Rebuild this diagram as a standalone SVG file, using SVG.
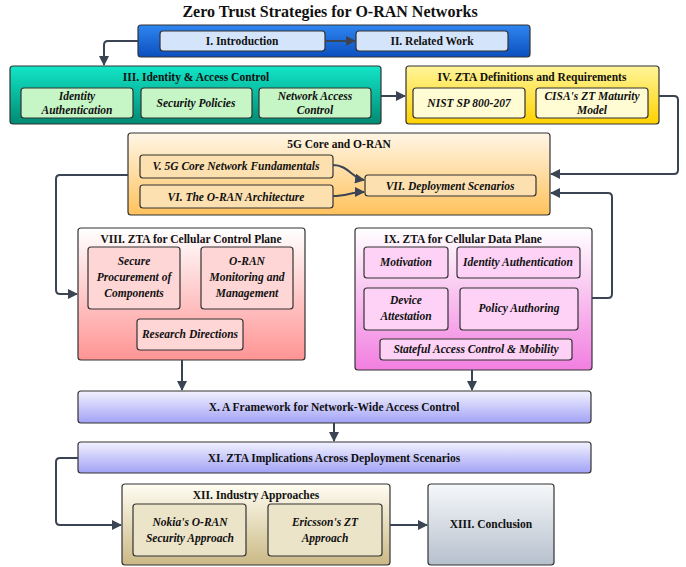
<svg xmlns="http://www.w3.org/2000/svg" width="686" height="567" viewBox="0 0 686 567">
<defs>
<linearGradient id="gBlue" x1="0" y1="0" x2="0" y2="1"><stop offset="0" stop-color="#2f86f0"/><stop offset="1" stop-color="#0b4fbf"/></linearGradient>
<linearGradient id="gTeal" x1="0" y1="0" x2="0" y2="1"><stop offset="0" stop-color="#12e6c8"/><stop offset="1" stop-color="#008a72"/></linearGradient>
<linearGradient id="gYellow" x1="0" y1="0" x2="0" y2="1"><stop offset="0" stop-color="#fff59a"/><stop offset="1" stop-color="#ffd200"/></linearGradient>
<linearGradient id="gOrange" x1="0" y1="0" x2="0" y2="1"><stop offset="0" stop-color="#fff6e6"/><stop offset="1" stop-color="#ffc25c"/></linearGradient>
<linearGradient id="gRed" x1="0" y1="0" x2="0" y2="1"><stop offset="0" stop-color="#ffffff"/><stop offset="1" stop-color="#ff9494"/></linearGradient>
<linearGradient id="gPink" x1="0" y1="0" x2="0" y2="1"><stop offset="0" stop-color="#ffffff"/><stop offset="1" stop-color="#f27fe0"/></linearGradient>
<linearGradient id="gLav" x1="0" y1="0" x2="0" y2="1"><stop offset="0" stop-color="#f2f2ff"/><stop offset="1" stop-color="#a2a2f6"/></linearGradient>
<linearGradient id="gTan" x1="0" y1="0" x2="0" y2="1"><stop offset="0" stop-color="#fffdf2"/><stop offset="1" stop-color="#cbb985"/></linearGradient>
<linearGradient id="gGray" x1="0" y1="0" x2="0" y2="1"><stop offset="0" stop-color="#f6f8fa"/><stop offset="1" stop-color="#b6c0cd"/></linearGradient>
<marker id="arr" viewBox="0 0 10 10" refX="9" refY="5" markerWidth="5" markerHeight="5" orient="auto" markerUnits="strokeWidth"><path d="M0,0 L10,5 L0,10 Z" fill="#3b4452"/></marker>
</defs>
<style>
.box{stroke:#333;stroke-width:1.2}
.sub{stroke:#333;stroke-width:1.2}
.t{font-family:"Liberation Serif","Times New Roman",serif;font-weight:bold;font-size:11.5px;fill:#111;text-anchor:middle}
.ti{font-family:"Liberation Serif","Times New Roman",serif;font-weight:bold;font-style:italic;font-size:11.5px;fill:#111;text-anchor:middle}
.c{fill:none;stroke:#3b4452;stroke-width:2;marker-end:url(#arr)}
</style>
<text x="330" y="17" class="t" style="font-size:16px">Zero Trust Strategies for O-RAN Networks</text>

<g id="n1-2">
<rect class="box" x="138" y="25" width="392" height="32" rx="3" fill="url(#gBlue)"/>
</g>
<g id="intro"><rect class="sub" x="160" y="31" width="165" height="20" rx="3" fill="#d3e4fb"/><text class="t" x="242" y="45">I. Introduction</text></g>
<g id="related"><rect class="sub" x="356" y="31" width="152" height="20" rx="3" fill="#d3e4fb"/><text class="t" x="432" y="45">II. Related Work</text></g>

<g id="iac">
<rect class="box" x="10" y="66" width="371" height="58" rx="3" fill="url(#gTeal)"/>
<text class="t" x="196" y="81">III. Identity &amp; Access Control</text>
<rect class="sub" x="21" y="88" width="112" height="30" rx="3" fill="#c6f5c6"/>
<text class="ti" x="77" y="100">Identity</text><text class="ti" x="77" y="114">Authentication</text>
<rect class="sub" x="141" y="88" width="111" height="30" rx="3" fill="#c6f5c6"/>
<text class="ti" x="196" y="107">Security Policies</text>
<rect class="sub" x="259" y="88" width="112" height="30" rx="3" fill="#c6f5c6"/>
<text class="ti" x="315" y="100">Network Access</text><text class="ti" x="315" y="114">Control</text>
</g>

<g id="zta-def">
<rect class="box" x="406" y="66" width="253" height="58" rx="3" fill="url(#gYellow)"/>
<text class="t" x="532" y="81">IV. ZTA Definitions and Requirements</text>
<rect class="sub" x="413" y="88" width="112" height="30" rx="3" fill="#fffbd2"/>
<text class="ti" x="469" y="107">NIST SP 800-207</text>
<rect class="sub" x="536" y="88" width="112" height="30" rx="3" fill="#fffbd2"/>
<text class="ti" x="592" y="100">CISA's ZT Maturity</text><text class="ti" x="592" y="114">Model</text>
</g>

<g id="core">
<rect class="box" x="128" y="133" width="422" height="82" rx="3" fill="url(#gOrange)"/>
<text class="t" x="339" y="148">5G Core and O-RAN</text>
</g>
<g id="v"><rect class="sub" x="140" y="155" width="193" height="23" rx="3" fill="#fde0b0"/><text class="ti" x="236" y="170">V. 5G Core Network Fundamentals</text></g>
<g id="vi"><rect class="sub" x="140" y="185" width="193" height="23" rx="3" fill="#fde0b0"/><text class="ti" x="236" y="201">VI. The O-RAN Architecture</text></g>
<g id="vii"><rect class="sub" x="365" y="175" width="171" height="21" rx="3" fill="#fde0b0"/><text class="ti" x="450" y="190">VII. Deployment Scenarios</text></g>

<g id="ctrl">
<rect class="box" x="78" y="228" width="227" height="132" rx="3" fill="url(#gRed)"/>
<text class="t" x="191" y="243">VIII. ZTA for Cellular Control Plane</text>
<rect class="sub" x="88" y="247" width="92" height="62" rx="3" fill="#ffd6d6"/>
<text class="ti" x="134" y="265">Secure</text><text class="ti" x="134" y="281">Procurement of</text><text class="ti" x="134" y="297">Components</text>
<rect class="sub" x="201" y="247" width="92" height="62" rx="3" fill="#ffd6d6"/>
<text class="ti" x="247" y="265">O-RAN</text><text class="ti" x="247" y="281">Monitoring and</text><text class="ti" x="247" y="297">Management</text>
<rect class="sub" x="137" y="319" width="106" height="31" rx="3" fill="#ffd6d6"/>
<text class="ti" x="190" y="338">Research Directions</text>
</g>

<g id="data">
<rect class="box" x="355" y="228" width="237" height="142" rx="3" fill="url(#gPink)"/>
<text class="t" x="463" y="243">IX. ZTA for Cellular Data Plane</text>
<rect class="sub" x="364" y="247" width="84" height="31" rx="3" fill="#fdd2f6"/>
<text class="ti" x="406" y="266">Motivation</text>
<rect class="sub" x="457" y="247" width="123" height="31" rx="3" fill="#fdd2f6"/>
<text class="ti" x="518" y="266">Identity Authentication</text>
<rect class="sub" x="364" y="288" width="84" height="42" rx="3" fill="#fdd2f6"/>
<text class="ti" x="406" y="304">Device</text><text class="ti" x="406" y="320">Attestation</text>
<rect class="sub" x="460" y="288" width="118" height="42" rx="3" fill="#fdd2f6"/>
<text class="ti" x="519" y="312">Policy Authoring</text>
<rect class="sub" x="380" y="339" width="192" height="21" rx="3" fill="#fdd2f6"/>
<text class="ti" x="476" y="353">Stateful Access Control &amp; Mobility</text>
</g>

<g id="framework"><rect class="box" x="78" y="391" width="513" height="32" rx="3" fill="url(#gLav)"/><text class="t" x="334" y="411">X. A Framework for Network-Wide Access Control</text></g>
<g id="implications"><rect class="box" x="78" y="442" width="513" height="31" rx="3" fill="url(#gLav)"/><text class="t" x="334" y="462">XI. ZTA Implications Across Deployment Scenarios</text></g>

<g id="industry">
<rect class="box" x="122" y="484" width="268" height="81" rx="3" fill="url(#gTan)"/>
<text class="t" x="256" y="499">XII. Industry Approaches</text>
<rect class="sub" x="133" y="504" width="113" height="52" rx="3" fill="#ece4c8"/>
<text class="ti" x="190" y="526">Nokia's O-RAN</text><text class="ti" x="190" y="542">Security Approach</text>
<rect class="sub" x="268" y="504" width="114" height="52" rx="3" fill="#ece4c8"/>
<text class="ti" x="325" y="526">Ericsson's ZT</text><text class="ti" x="325" y="542">Approach</text>
</g>
<g id="conclusion"><rect class="box" x="428" y="484" width="126" height="81" rx="3" fill="url(#gGray)"/><text class="t" x="491" y="528">XIII. Conclusion</text></g>

<g id="connectors">
<path class="c" d="M325,41 L355,41"/>
<path class="c" d="M138,41 L108,41 Q104,41 104,45 L104,65"/>
<path class="c" d="M381,96 L405,96"/>
<path class="c" d="M659,96 L674,96 Q678,96 678,100 L678,170 Q678,174 674,174 L551,174"/>
<path class="c" d="M333,165 C348,165 352,178 364,180"/>
<path class="c" d="M333,196 C346,196 352,192 364,192"/>
<path class="c" d="M592,298 L608,298 Q612,298 612,294 L612,197 Q612,193 608,193 L551,193"/>
<path class="c" d="M128,175 L60,175 Q56,175 56,179 L56,290 Q56,294 60,294 L77,294"/>
<path class="c" d="M182,360 L182,390"/>
<path class="c" d="M472,370 L472,390"/>
<path class="c" d="M334,423 L334,441"/>
<path class="c" d="M78,458 L60,458 Q56,458 56,462 L56,521 Q56,525 60,525 L121,525"/>
<path class="c" d="M390,525 L427,525"/>
</g>
</svg>
